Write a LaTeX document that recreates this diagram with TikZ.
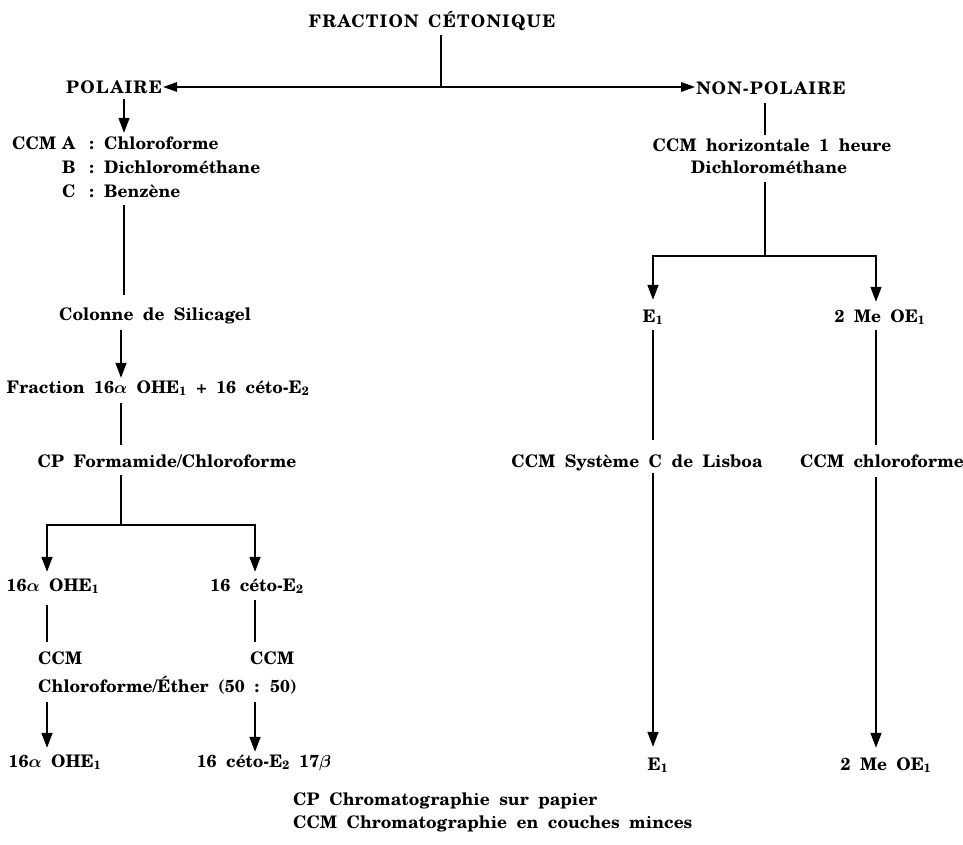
\documentclass[tikz,border=0pt]{standalone}
\usepackage{bm}
\usepackage{fontspec}
\setmainfont{TeX Gyre Schola}
\usetikzlibrary{arrows.meta}
\newcommand{\wordsp}{\spaceskip=0.55em\relax}
\begin{document}
\begin{tikzpicture}[x=1pt,y=-1pt,
  every node/.style={inner sep=1pt, text height=13pt, text depth=4pt, anchor=base,
    font=\fontsize{17.3}{23.5}\selectfont\bfseries, execute at begin node=\wordsp},
  caps/.style={font=\fontsize{17.3}{23.5}\selectfont\bfseries\addfontfeature{LetterSpace=7}},
  ln/.style={line width=1.5pt},
  arr/.style={ln, -{Triangle[length=15pt,width=11pt]}},
  harr/.style={ln, -{Triangle[length=14pt,width=9.5pt]}}]
\useasboundingbox (0,0) rectangle (963,845);
% nodes
\node[caps] (frac) at (432,28) {FRACTION CÉTONIQUE};
\node[caps] (pol) at (114,94) {POLAIRE};
\node[caps] (nonpol) at (771,95) {NON-POLAIRE};
\node[anchor=base west] (ccmA) at (11,150) {\makebox[50pt][l]{CCM}\makebox[27pt][l]{A}\makebox[15pt][l]{:}Chloroforme};
\node[anchor=base west] (ccmB) at (61,173.5) {\makebox[27pt][l]{B}\makebox[15pt][l]{:}Dichlorométhane};
\node[anchor=base west] (ccmC) at (61,197) {\makebox[27pt][l]{C}\makebox[15pt][l]{:}Benzène};
\node (col) at (155,320) {Colonne de Silicagel};
\node (fr) at (158,393) {Fraction 16$\bm\alpha$ OHE\textsubscript{1} + 16 céto-E\textsubscript{2}};
\node (cp) at (167,467) {CP Formamide/Chloroforme};
\node (a1) at (53,591) {16$\bm\alpha$ OHE\textsubscript{1}};
\node (k1) at (257,591) {16 céto-E\textsubscript{2}};
\node[anchor=base west] (ccmL) at (37,664) {CCM};
\node[anchor=base west] (ccmR) at (249,664) {CCM};
\node[anchor=base west] (chl) at (37,692) {Chloroforme/Éther (50 : 50)};
\node (a2) at (55,767) {16$\bm\alpha$ OHE\textsubscript{1}};
\node (k2) at (264,767) {16 céto-E\textsubscript{2} 17$\bm\beta$};
\node (hz) at (772,152) {CCM horizontale 1 heure};
\node (dich) at (769,174) {Dichlorométhane};
\node (e1) at (653,322) {E\textsubscript{1}};
\node (me) at (880,322) {2 Me OE\textsubscript{1}};
\node (lis) at (637,467) {CCM Système C de Lisboa};
\node (chlf) at (882,467) {CCM chloroforme};
\node (e1b) at (658,770) {E\textsubscript{1}};
\node (meb) at (886,770) {2 Me OE\textsubscript{1}};
\node[anchor=base west] (lg1) at (292,805) {CP Chromatographie sur papier};
\node[anchor=base west] (lg2) at (292,828) {CCM Chromatographie en couches minces};
% guide coordinates
\coordinate (xF) at (441,0);
\coordinate (xP) at (124,0);
\coordinate (xL) at (121,0);
\coordinate (xa) at (47,0);
\coordinate (xk) at (255,0);
\coordinate (xN) at (765,0);
\coordinate (xE) at (653,0);
\coordinate (xM) at (876,0);
\coordinate (J0) at (441,87);
\coordinate (J1) at (121,525);
\coordinate (J2) at (765,256);
% connectors
\draw[ln, shorten <=2pt] (frac.south -| xF) -- (J0);
\draw[harr] (J0) -- (J0 -| pol.east);
\draw[harr] (J0) -- (J0 -| nonpol.west);
\draw[arr, shorten >=3pt] (pol.south -| xP) -- (ccmA.north -| xP);
\draw[ln, shorten <=3pt, shorten >=11pt] (ccmC.south -| xP) -- (col.north -| xP);
\draw[arr, shorten <=5pt, shorten >=1pt] (col.south -| xL) -- (fr.north -| xL);
\draw[ln, shorten <=5pt, shorten >=8pt] (fr.south -| xL) -- (cp.north -| xL);
\draw[ln, shorten <=3pt] (cp.south -| xL) -- (J1);
\draw[arr, shorten >=5pt] (J1) -| (a1.north -| xa);
\draw[arr, shorten >=5pt] (J1) -| (k1.north -| xk);
\draw[ln, shorten <=9pt, shorten >=8pt] (a1.south -| xa) -- (ccmL.north -| xa);
\draw[ln, shorten <=4pt, shorten >=8pt] (k1.south -| xk) -- (ccmR.north -| xk);
\draw[arr, shorten <=5pt, shorten >=5pt] (chl.south -| xa) -- (a2.north -| xa);
\draw[arr, shorten <=5pt, shorten >=1pt] (chl.south -| xk) -- (k2.north -| xk);
\draw[ln, shorten <=3pt, shorten >=3pt] (nonpol.south -| xN) -- (hz.north -| xN);
\draw[ln, shorten <=3pt] (dich.south -| xN) -- (J2);
\draw[arr, shorten >=8pt] (J2) -| (e1.north -| xE);
\draw[arr, shorten >=6pt] (J2) -| (me.north -| xM);
\draw[ln, shorten <=3pt, shorten >=13pt] (e1.south -| xE) -- (lis.north -| xE);
\draw[ln, shorten <=3pt, shorten >=8pt] (me.south -| xM) -- (chlf.north -| xM);
\draw[arr, shorten <=1pt, shorten >=9pt] (lis.south -| xE) -- (e1b.north -| xE);
\draw[arr, shorten <=5pt, shorten >=8pt] (chlf.south -| xM) -- (meb.north -| xM);
\end{tikzpicture}
\end{document}
